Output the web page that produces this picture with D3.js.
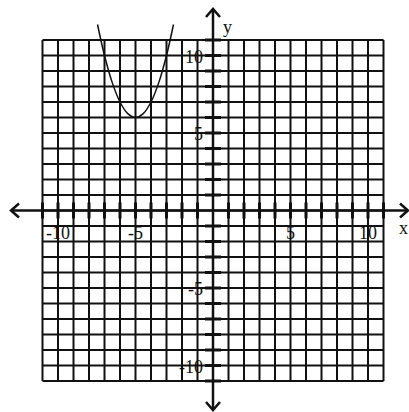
<!DOCTYPE html>
<html>
<head>
<meta charset="utf-8">
<script src="https://cdn.jsdelivr.net/npm/d3@7/dist/d3.min.js"></script>
<style>
  html, body { margin: 0; padding: 0; background: #fff; }
  svg { display: block; }
</style>
</head>
<body>
<div id="chart"></div>
<script>
// grid range and labelled ticks
const gridRange = [-11, 11];
const xTickLabels = [-10, -5, 5, 10];
const yTickLabels = [-10, -5, 5, 10];

// points (vertex near -5, 6)
const curveX = [-7.45, -7, -6.5, -6, -5.5, -5, -4.5, -4, -3.5, -3, -2.55];
const curveY = [12, 10, 8.25, 7, 6.25, 6, 6.25, 7, 8.25, 10, 12];

const width = 409, height = 412;

const svg = d3.select('#chart').append('svg')
    .attr('width', width)
    .attr('height', height);

// scales
const x = d3.scaleLinear().domain(gridRange).range([42.5, 383.5]);
const y = d3.scaleLinear().domain(gridRange).range([381, 40]);

const ink = '#111';
const units = d3.range(gridRange[0], gridRange[1] + 1);

// grid lines
const grid = svg.append('g').attr('stroke', ink).attr('stroke-width', 2);
grid.selectAll('line.v').data(units).enter().append('line')
    .attr('class', 'v')
    .attr('x1', d => x(d)).attr('x2', d => x(d))
    .attr('y1', y(gridRange[0])).attr('y2', y(gridRange[1]));
grid.selectAll('line.h').data(units).enter().append('line')
    .attr('class', 'h')
    .attr('y1', d => y(d)).attr('y2', d => y(d))
    .attr('x1', x(gridRange[0])).attr('x2', x(gridRange[1]));

// axes
const axes = svg.append('g').attr('stroke', ink).attr('stroke-width', 2.5).attr('fill', 'none');
axes.append('line').attr('x1', 11).attr('x2', 408).attr('y1', y(0)).attr('y2', y(0));
axes.append('line').attr('x1', x(0)).attr('x2', x(0)).attr('y1', 9).attr('y2', 410);

// open arrowheads
axes.append('path').attr('d', `M19,${y(0) - 7}L11,${y(0)}L19,${y(0) + 7}`);
axes.append('path').attr('d', `M400,${y(0) - 7}L408,${y(0)}L400,${y(0) + 7}`);
axes.append('path').attr('d', `M${x(0) - 7},17L${x(0)},9L${x(0) + 7},17`);
axes.append('path').attr('d', `M${x(0) - 7},402L${x(0)},410L${x(0) + 7},402`);

// tick marks on axes
const ticks = svg.append('g').attr('stroke', ink).attr('stroke-width', 3);
ticks.selectAll('line.tx').data(units.filter(d => d !== 0)).enter().append('line')
    .attr('class', 'tx')
    .attr('x1', d => x(d)).attr('x2', d => x(d))
    .attr('y1', y(0) - 8).attr('y2', y(0) + 8);
ticks.selectAll('line.ty').data(units.filter(d => d !== 0)).enter().append('line')
    .attr('class', 'ty')
    .attr('y1', d => y(d)).attr('y2', d => y(d))
    .attr('x1', x(0) - 8).attr('x2', x(0) + 8);

// tick labels
const font = '"Liberation Serif", "DejaVu Serif", serif';
const labels = svg.append('g')
    .attr('font-family', font)
    .attr('font-size', 18)
    .attr('fill', ink);
labels.selectAll('text.lx').data(xTickLabels).enter().append('text')
    .attr('class', 'lx')
    .attr('x', d => x(d))
    .attr('y', y(0) + 28)
    .attr('text-anchor', 'middle')
    .text(d => d);
labels.selectAll('text.ly').data(yTickLabels).enter().append('text')
    .attr('class', 'ly')
    .attr('x', x(0) - 10)
    .attr('y', d => y(d) + 7)
    .attr('text-anchor', 'end')
    .text(d => d);

// axis names
labels.append('text').attr('x', 223).attr('y', 33).text('y');
labels.append('text').attr('x', 399).attr('y', 234).text('x');

// parabola
const pts = curveX.map((v, i) => [v, curveY[i]]);
svg.append('path')
    .datum(pts)
    .attr('fill', 'none')
    .attr('stroke', ink)
    .attr('stroke-width', 1.5)
    .attr('d', d3.line()
        .x(d => x(d[0]))
        .y(d => y(d[1]))
        .curve(d3.curveCatmullRom));
</script>
</body>
</html>
